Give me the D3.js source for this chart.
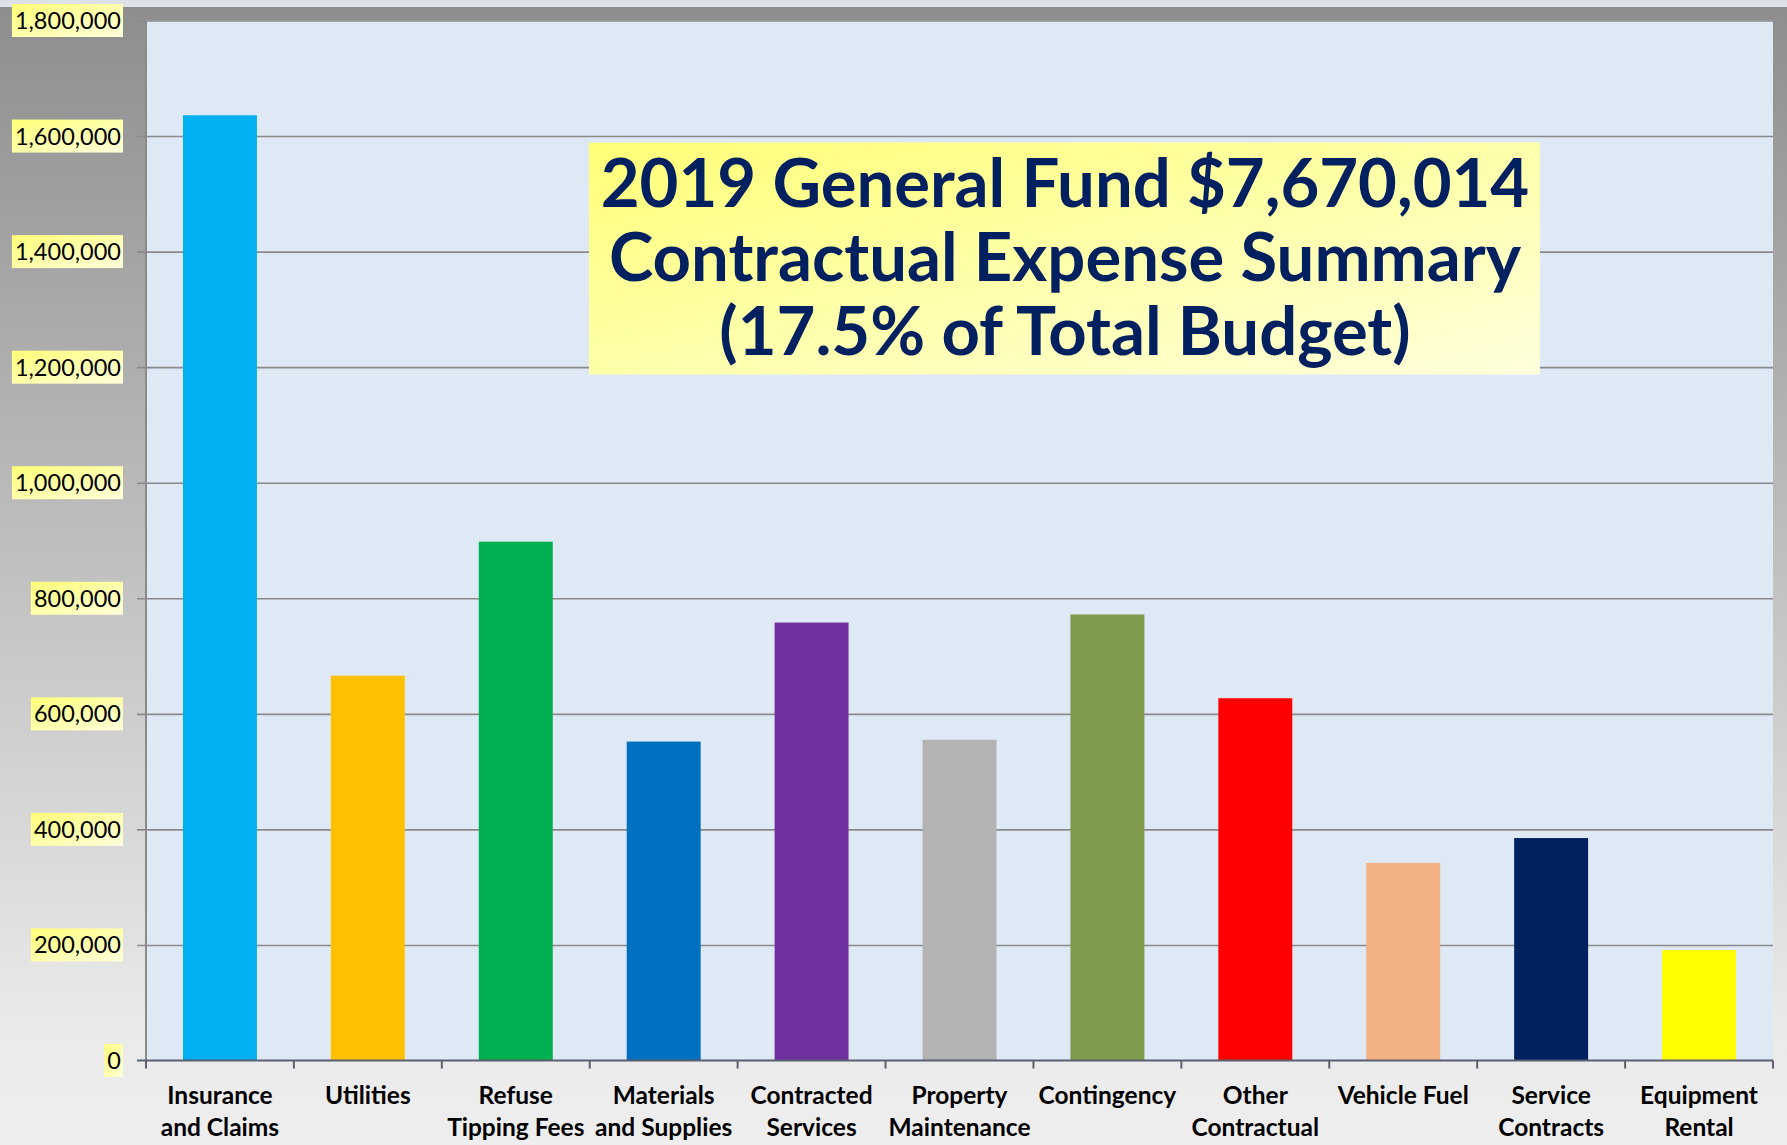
<!DOCTYPE html>
<html>
<head>
<meta charset="utf-8">
<title>2019 General Fund Contractual Expense Summary</title>
<script src="https://d3js.org/d3.v7.min.js"></script>
<style>
  body { margin: 0; background: #eeeeee; }
  svg { display: block; }
</style>
</head>
<body>
<div id="chart"></div>
<script>

// categories, each label split in two lines
var categories = ["Insurance and Claims", "Utilities", "Refuse Tipping Fees", "Materials and Supplies",
  "Contracted Services", "Property Maintenance", "Contingency", "Other Contractual",
  "Vehicle Fuel", "Service Contracts", "Equipment Rental"];
var labelLines = [["Insurance", "and Claims"], ["Utilities"], ["Refuse", "Tipping Fees"], ["Materials", "and Supplies"],
  ["Contracted", "Services"], ["Property", "Maintenance"], ["Contingency"], ["Other", "Contractual"],
  ["Vehicle Fuel"], ["Service", "Contracts"], ["Equipment", "Rental"]];
var amounts = [1636000, 666000, 898000, 552000, 758000, 555000, 772000, 627000, 342000, 385000, 191000];
var barColors = ["#00B0F0", "#FFC000", "#00B050", "#0070C0", "#7030A0", "#B3B3B3",
  "#7E9A4B", "#FF0000", "#F4B183", "#002060", "#FFFF00"];
var yTicks = [0, 200000, 400000, 600000, 800000, 1000000, 1200000, 1400000, 1600000, 1800000];
var titleLines = ["2019 General Fund $7,670,014", "Contractual Expense Summary", "(17.5% of Total Budget)"];

var W = 1787, H = 1145;
var plotLeft = 146, plotRight = 1773, plotTop = 20.5, plotBottom = 1060.5;

var svg = d3.select("#chart").append("svg")
  .attr("width", W)
  .attr("height", H);

var defs = svg.append("defs");

// page background: grey fading to light grey
var bg = defs.append("linearGradient").attr("id", "bg")
  .attr("x1", 0).attr("y1", 0).attr("x2", 0).attr("y2", 1);
bg.append("stop").attr("offset", "0%").attr("stop-color", "#8d8d8d");
bg.append("stop").attr("offset", "90%").attr("stop-color", "#eaeaea");
bg.append("stop").attr("offset", "100%").attr("stop-color", "#eeeeee");

// yellow highlight used behind labels and title
var hl = defs.append("linearGradient").attr("id", "hl")
  .attr("x1", 0).attr("y1", 0).attr("x2", 1).attr("y2", 1);
hl.append("stop").attr("offset", "0%").attr("stop-color", "#ffff78");
hl.append("stop").attr("offset", "100%").attr("stop-color", "#ffffdc");

svg.append("rect").attr("width", W).attr("height", H).attr("fill", "url(#bg)");
svg.append("rect").attr("width", W).attr("height", 7).attr("fill", "#dde2e9");

// plot area
svg.append("rect")
  .attr("x", plotLeft).attr("y", plotTop)
  .attr("width", plotRight - plotLeft).attr("height", plotBottom - plotTop)
  .attr("fill", "#dee9f5");

var x = d3.scaleBand()
  .domain(categories)
  .range([plotLeft, plotRight])
  .paddingInner(0.5)
  .paddingOuter(0.25);

var y = d3.scaleLinear()
  .domain([0, 1800000])
  .range([plotBottom, plotTop]);

// gridlines + y ticks
svg.append("g")
  .attr("transform", "translate(" + plotLeft + ",0)")
  .call(d3.axisLeft(y).tickValues(yTicks.slice(1)).tickSize(-(plotRight - plotLeft)).tickFormat(""))
  .call(function(g) { g.select(".domain").remove(); })
  .call(function(g) { g.selectAll("line").attr("stroke", "#8a8a8a").attr("stroke-width", 1.6).attr("x1", -9); });

// y axis line
svg.append("line")
  .attr("x1", plotLeft).attr("x2", plotLeft)
  .attr("y1", plotTop).attr("y2", plotBottom)
  .attr("stroke", "#8a8a8a").attr("stroke-width", 2);

// bars
svg.append("g").selectAll("rect")
  .data(categories)
  .enter().append("rect")
  .attr("x", function(d) { return x(d); })
  .attr("y", function(d, i) { return y(amounts[i]); })
  .attr("width", x.bandwidth())
  .attr("height", function(d, i) { return plotBottom - y(amounts[i]); })
  .attr("fill", function(d, i) { return barColors[i]; });

// x axis with ticks at category boundaries
var step = x.step();
var boundaries = d3.range(categories.length + 1).map(function(i) { return plotLeft + i * step; });
svg.append("line")
  .attr("x1", plotLeft - 9).attr("x2", plotRight)
  .attr("y1", plotBottom).attr("y2", plotBottom)
  .attr("stroke", "#5b6070").attr("stroke-width", 2);
svg.append("g").selectAll("line")
  .data(boundaries)
  .enter().append("line")
  .attr("x1", function(d) { return d; }).attr("x2", function(d) { return d; })
  .attr("y1", plotBottom).attr("y2", plotBottom + 8)
  .attr("stroke", "#5b6070").attr("stroke-width", 2);

// x labels
var xl = svg.append("g")
  .attr("font-family", "Lato, 'Open Sans', sans-serif")
  .attr("font-weight", "bold")
  .attr("font-size", 24.5)
  .attr("text-anchor", "middle")
  .attr("fill", "#000");
categories.forEach(function(c, i) {
  labelLines[i].forEach(function(t, j) {
    xl.append("text")
      .attr("x", x(c) + x.bandwidth() / 2)
      .attr("y", 1104 + j * 32)
      .text(t);
  });
});

// y labels with yellow boxes
var fmt = d3.format(",");
var yl = svg.append("g");
yTicks.forEach(function(v) {
  var box = yl.append("rect").attr("fill", "url(#hl)");
  var t = yl.append("text")
    .attr("x", 121)
    .attr("y", y(v))
    .attr("dy", "0.36em")
    .attr("text-anchor", "end")
    .attr("font-family", "Lato, 'Open Sans', sans-serif")
    .attr("font-size", 23.5)
    .attr("fill", "#000")
    .text(fmt(v));
  var w = t.node().getComputedTextLength();
  box.attr("x", 121 - w - 3).attr("y", y(v) - 16.5)
    .attr("width", w + 5).attr("height", 33);
});

// title box
svg.append("rect")
  .attr("x", 589).attr("y", 142.5)
  .attr("width", 951).attr("height", 232)
  .attr("fill", "url(#hl)");
var tg = svg.append("g")
  .attr("font-family", "Lato, 'Open Sans', sans-serif")
  .attr("font-weight", "bold")
  .attr("font-size", 67)
  .attr("text-anchor", "middle")
  .attr("fill", "#002060");
titleLines.forEach(function(t, i) {
  tg.append("text")
    .attr("x", 1065)
    .attr("y", 207 + i * 74)
    .text(t);
});

</script>
</body>
</html>
